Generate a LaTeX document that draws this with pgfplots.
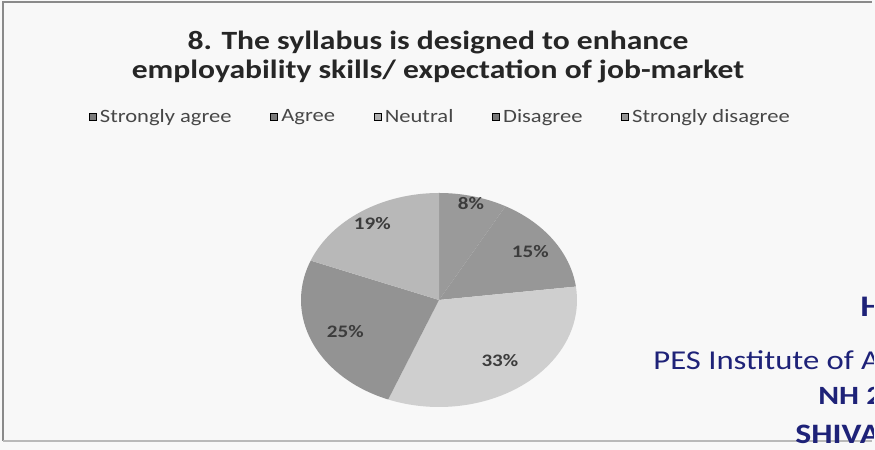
\documentclass[border=0pt]{standalone}
\usepackage{pgfplots}
\pgfplotsset{compat=1.18}
\usepackage{fontspec}
% the scan is stretched sideways, so the letters are widened a little
\setmainfont[FakeStretch=1.2]{Carlito}

\definecolor{bgc}{HTML}{F8F8F8}
\definecolor{frm}{HTML}{8A8A8A}
\definecolor{sa}{HTML}{9A9A9A}
\definecolor{ag}{HTML}{979797}
\definecolor{ne}{HTML}{CFCFCF}
\definecolor{di}{HTML}{939393}
\definecolor{sd}{HTML}{B8B8B8}
\definecolor{lbl}{HTML}{3C3C3C}
\definecolor{stamp}{HTML}{1E2278}

\begin{document}
\begin{tikzpicture}
\begin{axis}[
	scale only axis,
	width=17.5cm, height=9cm,
	xmin=0, xmax=875, ymin=0, ymax=450,
	y dir=reverse,
	hide axis,
	clip=false,
	legend columns=5,
	legend style={
		at={(axis cs:441,117)},
		anchor=center,
		draw=none, fill=none,
		font=\fontsize{10.7}{12}\selectfont\color{black!72},
		/tikz/every even column/.append style={column sep=0.7cm},
	},
	legend image code/.code={\fill[#1] (0cm,-0.065cm) rectangle (0.14cm,0.065cm);},
]
% background and frame of the scan
\pgfplotsextra{
	\fill[bgc] (axis cs:0,0) rectangle (axis cs:875,450);
	\draw[frm, line width=1.1pt] (axis cs:3,441) -- (axis cs:3,2) -- (axis cs:872,2);
	\draw[frm!60, line width=0.8pt] (axis cs:3,441) -- (axis cs:872,441);
}
\addlegendimage{fill=sa!80!black}
\addlegendentry{Strongly agree}
\addlegendimage{fill=ag!80!black}
\addlegendentry{Agree}
\addlegendimage{fill=ne!85!black}
\addlegendentry{Neutral}
\addlegendimage{fill=di!80!black}
\addlegendentry{Disagree}
\addlegendimage{fill=sd!80!black}
\addlegendentry{Strongly disagree}

% pie: percent / colour / label distance (fraction of radius)
\pgfplotsextra{
	\gdef\startang{90}
	\foreach \p/\c/\f in {8/sa/0.93, 15/ag/0.80, 33/ne/0.72, 25/di/0.74, 19/sd/0.86} {
		\pgfmathsetmacro\endang{\startang-3.6*\p}
		\pgfmathsetmacro\midang{(\startang+\endang)/2}
		\fill[\c] (axis cs:439,300) -- ++(\startang:2.76cm and 2.14cm)
			arc[start angle=\startang, end angle=\endang, x radius=2.76cm, y radius=2.14cm] -- cycle;
		\path (axis cs:439,300) ++(\midang:{\f*2.76cm} and {\f*2.14cm})
			node[font=\bfseries\fontsize{10}{11}\selectfont, text=lbl] {\p\%};
		\xdef\startang{\endang}
	}
	\node[font=\bfseries\fontsize{15}{17}\selectfont, align=center, text=black!85]
		at (axis cs:438,57) {8. The syllabus is designed to enhance\\employability skills/ expectation of job-market};
	% stamp at the right edge of the scan
	\begin{scope}
		\clip (axis cs:600,280) rectangle (axis cs:873,450);
		\node[anchor=base west, inner sep=0pt, font=\bfseries\fontsize{17}{18}\selectfont, text=stamp] at (axis cs:860,317) {HOD};
		\node[anchor=base west, inner sep=0pt, font=\fontsize{15.5}{17}\selectfont, text=stamp] at (axis cs:653,370) {PES Institute of Advanced};
		\node[anchor=base west, inner sep=0pt, font=\bfseries\fontsize{15}{16}\selectfont, text=stamp] at (axis cs:818,405) {NH 206};
		\node[anchor=base west, inner sep=0pt, font=\bfseries\fontsize{16}{17}\selectfont, text=stamp] at (axis cs:795,444) {SHIVAMOGGA};
	\end{scope}
}
\end{axis}
\end{tikzpicture}
\end{document}
